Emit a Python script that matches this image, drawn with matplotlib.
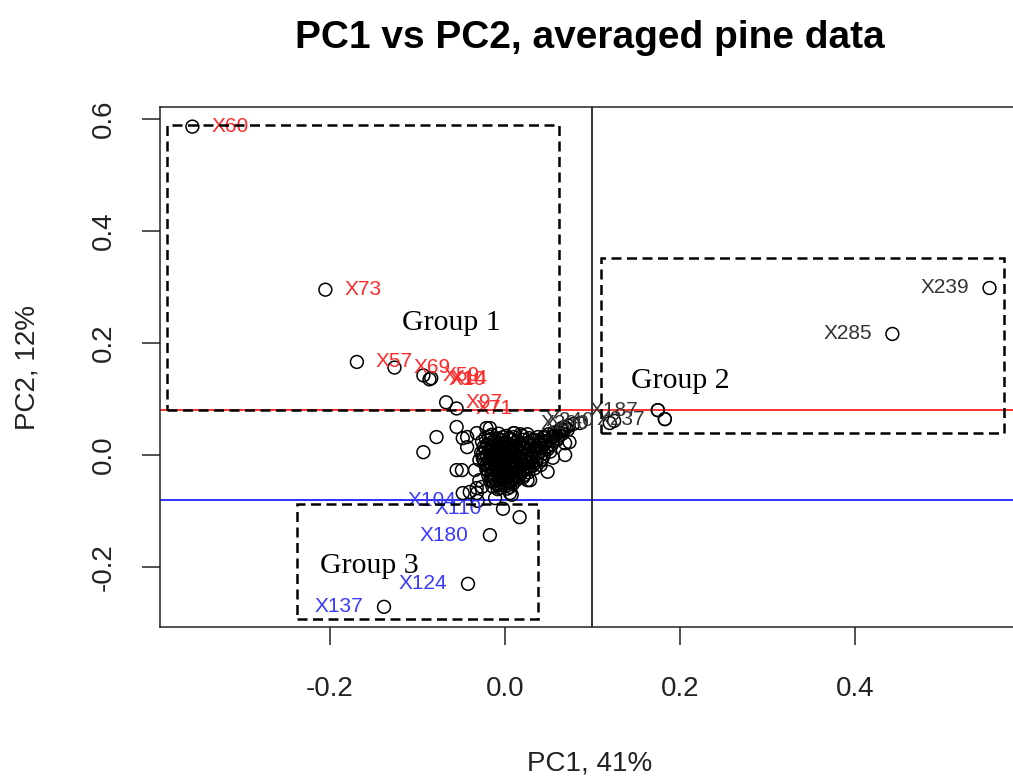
import matplotlib
matplotlib.use("Agg")
import matplotlib.pyplot as plt
from matplotlib.patches import Rectangle

plt.rcParams["axes.unicode_minus"] = False
plt.rcParams["font.family"] = ["Liberation Sans", "DejaVu Sans"]

# Labelled samples (PC1, PC2 scores)
red_names = ["X60", "X73", "X57", "X69", "X59", "X10", "X14", "X97", "X71"]
red_pc1 = [-0.357, -0.205, -0.169, -0.126, -0.093, -0.086, -0.084, -0.067, -0.055]
red_pc2 = [0.586, 0.295, 0.166, 0.156, 0.142, 0.135, 0.137, 0.094, 0.083]

blue_names = ["X104", "X110", "X180", "X124", "X137"]
blue_pc1 = [-0.031, -0.002, -0.017, -0.042, -0.138]
blue_pc2 = [-0.082, -0.096, -0.143, -0.230, -0.271]

black_names = ["X200", "X240", "X187", "X237", "X285", "X239"]
black_pc1 = [0.120, 0.125, 0.175, 0.183, 0.443, 0.554]
black_pc2 = [0.057, 0.061, 0.080, 0.064, 0.216, 0.298]

# Unlabelled samples around the origin
other_points = [
    (-0.055, 0.050), (-0.078, 0.032), (-0.093, 0.005), (-0.043, 0.032),
    (-0.043, 0.014), (-0.055, -0.027), (-0.049, -0.027), (-0.029, -0.009),
    (-0.029, -0.045), (-0.032, -0.068), (-0.017, 0.048), (0.011, 0.039),
    (0.029, -0.045), (0.008, -0.071), (0.017, -0.111), (0.049, -0.030),
    (0.069, 0.000), (0.069, 0.021), (0.074, 0.023), (0.055, 0.032),
    (0.040, 0.023), (0.072, 0.045), (0.086, 0.057), (0.025, 0.021),
    (0.032, 0.027), (-0.006, 0.027), (0.009, 0.027), (-0.048, 0.030),
    (-0.021, 0.048), (-0.032, 0.039), (-0.034, -0.027), (-0.026, -0.057),
    (-0.032, -0.059), (-0.040, -0.066), (-0.048, -0.068), (0.026, -0.045),
    (0.055, -0.005), (-0.006, -0.059), (0.006, -0.068), (-0.011, -0.077),
    (0.175, 0.080), (0.183, 0.064),
]

# Densely packed samples at the centre of the score cloud
core_points = [
    (-0.015, 0.036), (0.002, 0.034), (0.018, 0.037), (0.045, 0.033),
    (-0.022, 0.031), (-0.008, 0.029), (0.010, 0.032), (0.028, 0.030),
    (0.050, 0.037), (0.062, 0.041),
    (-0.026, 0.024), (-0.012, 0.026), (0.000, 0.023), (0.014, 0.025),
    (0.034, 0.027), (0.058, 0.036), (0.070, 0.048),
    (-0.020, 0.019), (-0.005, 0.021), (0.006, 0.018), (0.020, 0.020),
    (0.040, 0.019), (0.052, 0.028), (0.065, 0.044),
    (-0.024, 0.014), (-0.014, 0.016), (-0.002, 0.013), (0.010, 0.015),
    (0.024, 0.013), (0.036, 0.016), (0.047, 0.022), (0.060, 0.030),
    (-0.018, 0.010), (-0.008, 0.008), (0.003, 0.011), (0.015, 0.009),
    (0.028, 0.011), (0.042, 0.012), (0.055, 0.024),
    (-0.027, 0.004), (-0.012, 0.006), (-0.001, 0.003), (0.008, 0.005),
    (0.020, 0.004), (0.033, 0.006), (0.048, 0.014),
    (-0.021, -0.001), (-0.010, 0.001), (0.002, -0.002), (0.012, 0.000),
    (0.025, -0.001), (0.038, 0.002), (0.052, 0.006),
    (-0.025, -0.006), (-0.015, -0.004), (-0.004, -0.007), (0.006, -0.005),
    (0.017, -0.006), (0.030, -0.004), (0.044, -0.003),
    (-0.019, -0.011), (-0.008, -0.009), (0.001, -0.012), (0.011, -0.010),
    (0.022, -0.011), (0.036, -0.009),
    (-0.023, -0.016), (-0.012, -0.014), (-0.002, -0.017), (0.008, -0.015),
    (0.019, -0.016), (0.031, -0.014), (0.041, -0.018),
    (-0.017, -0.021), (-0.006, -0.019), (0.004, -0.022), (0.014, -0.020),
    (0.026, -0.021),
    (-0.021, -0.026), (-0.010, -0.024), (0.000, -0.027), (0.010, -0.025),
    (0.021, -0.026), (0.034, -0.024),
    (-0.015, -0.031), (-0.004, -0.029), (0.006, -0.032), (0.017, -0.030),
    (0.027, -0.031),
    (-0.019, -0.036), (-0.008, -0.034), (0.002, -0.037), (0.012, -0.035),
    (0.022, -0.036),
    (-0.013, -0.041), (-0.003, -0.039), (0.007, -0.042), (0.016, -0.040),
    (-0.017, -0.046), (-0.006, -0.044), (0.004, -0.047), (0.013, -0.045),
    (-0.010, -0.051), (0.000, -0.049), (0.009, -0.052),
    (-0.014, -0.056), (-0.004, -0.054), (0.006, -0.057),
    (-0.008, -0.061), (0.003, -0.060),
    (0.045, 0.030), (0.056, 0.040), (0.064, 0.047), (0.073, 0.052),
    (0.078, 0.055), (0.066, 0.038), (0.068, 0.050),
    (-0.007, 0.038), (0.010, 0.039), (0.026, 0.037),
    (-0.018, 0.033), (-0.002, 0.032), (0.020, 0.034), (0.038, 0.032),
    (0.055, 0.034),
    (-0.016, 0.028), (-0.004, 0.027), (0.006, 0.029), (0.021, 0.027),
    (0.042, 0.026), (0.062, 0.035),
    (-0.013, 0.023), (0.001, 0.022), (0.013, 0.023), (0.027, 0.022),
    (0.046, 0.024), (0.060, 0.027),
    (-0.019, 0.017), (-0.008, 0.018), (0.004, 0.016), (0.017, 0.017),
    (0.030, 0.018), (0.042, 0.016), (0.054, 0.019),
    (-0.022, 0.012), (-0.013, 0.011), (-0.003, 0.012), (0.009, 0.010),
    (0.021, 0.012), (0.035, 0.011), (0.049, 0.010),
    (-0.017, 0.007), (-0.006, 0.006), (0.004, 0.008), (0.014, 0.006),
    (0.026, 0.007), (0.040, 0.006),
    (-0.025, 0.002), (-0.015, 0.001), (-0.004, 0.002), (0.007, 0.000),
    (0.018, 0.002), (0.031, 0.001), (0.045, 0.003),
    (-0.020, -0.003), (-0.009, -0.004), (0.001, -0.003), (0.012, -0.004),
    (0.023, -0.002), (0.037, -0.004),
    (-0.024, -0.008), (-0.013, -0.009), (-0.003, -0.008), (0.006, -0.010),
    (0.017, -0.008), (0.029, -0.009), (0.042, -0.008),
    (-0.017, -0.013), (-0.006, -0.014), (0.004, -0.013), (0.014, -0.012),
    (0.025, -0.014), (0.036, -0.013),
    (-0.021, -0.018), (-0.011, -0.019), (-0.001, -0.018), (0.009, -0.019),
    (0.020, -0.017), (0.032, -0.019),
    (-0.015, -0.023), (-0.005, -0.024), (0.005, -0.023), (0.016, -0.024),
    (0.028, -0.022),
    (-0.019, -0.028), (-0.009, -0.029), (0.001, -0.028), (0.012, -0.029),
    (0.023, -0.027),
    (-0.013, -0.033), (-0.002, -0.034), (0.008, -0.033), (0.018, -0.034),
    (-0.016, -0.038), (-0.007, -0.039), (0.004, -0.038), (0.012, -0.039),
    (0.021, -0.040),
    (-0.011, -0.043), (0.000, -0.044), (0.010, -0.043),
    (-0.014, -0.048), (-0.004, -0.049), (0.007, -0.048),
    (-0.008, -0.053), (0.003, -0.054),
]

# Thresholds and group outlines
pc2_upper = 0.08
pc2_lower = -0.08
pc1_cut = 0.1
group_boxes = {
    "Group 1": ((-0.386, 0.080), (0.062, 0.589)),
    "Group 2": ((0.110, 0.039), (0.571, 0.352)),
    "Group 3": ((-0.237, -0.293), (0.038, -0.0875)),
}
group_text = {
    "Group 1": (-0.117, 0.223),
    "Group 2": (0.144, 0.120),
    "Group 3": (-0.211, -0.211),
}

fig = plt.figure(figsize=(10.13, 7.80), dpi=100)
ax = fig.add_axes([160 / 1013, 1 - 627 / 780, 861 / 1013, 520 / 780])

all_pc1 = red_pc1 + blue_pc1 + black_pc1 + [p[0] for p in other_points] + [p[0] for p in core_points]
all_pc2 = red_pc2 + blue_pc2 + black_pc2 + [p[1] for p in other_points] + [p[1] for p in core_points]

ax.scatter(all_pc1, all_pc2, s=85, facecolors="none", edgecolors="black",
           linewidths=1.1, zorder=3)

ax.axhline(pc2_upper, color="#ff2020", lw=1.3, zorder=2)
ax.axhline(pc2_lower, color="#2020ff", lw=1.3, zorder=2)
ax.axvline(pc1_cut, color="#222222", lw=1.3, zorder=2)

for name, x, y in zip(red_names, red_pc1, red_pc2):
    ax.annotate(name, (x, y), xytext=(19, 0), textcoords="offset pixels",
                ha="left", va="center", fontsize=15, color="#ff2a2a", zorder=4)
for name, x, y in zip(blue_names, blue_pc1, blue_pc2):
    ax.annotate(name, (x, y), xytext=(-21, 0), textcoords="offset pixels",
                ha="right", va="center", fontsize=15, color="#3a3aff", zorder=4)
for name, x, y in zip(black_names, black_pc1, black_pc2):
    ax.annotate(name, (x, y), xytext=(-20, 0), textcoords="offset pixels",
                ha="right", va="center", fontsize=15, color="#333333", zorder=4)

for name, ((x0, y0), (x1, y1)) in group_boxes.items():
    ax.add_patch(Rectangle((x0, y0), x1 - x0, y1 - y0, fill=False,
                           edgecolor="black", lw=1.8, linestyle=(0, (4, 2.2)),
                           zorder=5))
    tx, ty = group_text[name]
    ax.text(tx, ty, name, fontsize=21.5, family="Liberation Serif",
            ha="left", va="baseline", zorder=6)

ax.set_xlim(-0.394, 0.590)
ax.set_ylim(-0.307, 0.621)
ax.set_xticks([-0.2, 0.0, 0.2, 0.4])
ax.set_xticklabels(["-0.2", "0.0", "0.2", "0.4"])
ax.set_yticks([-0.2, 0.0, 0.2, 0.4, 0.6])
ax.set_yticklabels(["-0.2", "0.0", "0.2", "0.4", "0.6"])
ax.tick_params(axis="both", direction="out", length=13, width=1.1,
               labelsize=20, color="#222222", labelcolor="#222222")
ax.tick_params(axis="x", pad=22)
ax.tick_params(axis="y", pad=18)
for lab in ax.get_yticklabels():
    lab.set_rotation(90)
    lab.set_va("center")
for sp in ax.spines.values():
    sp.set_linewidth(1.1)
    sp.set_color("#222222")

fig.text(590 / 1013, 1 - 48 / 780, "PC1 vs PC2, averaged pine data",
         ha="center", va="baseline", fontsize=28, fontweight="bold")
fig.text(590 / 1013, 1 - 764 / 780, "PC1, 41%", ha="center", va="center",
         fontsize=20, color="#222222")
fig.text(28 / 1013, 1 - 367 / 780, "PC2, 12%", ha="center", va="center",
         rotation=90, fontsize=20, color="#222222")

fig.savefig("out.png", dpi=100)
